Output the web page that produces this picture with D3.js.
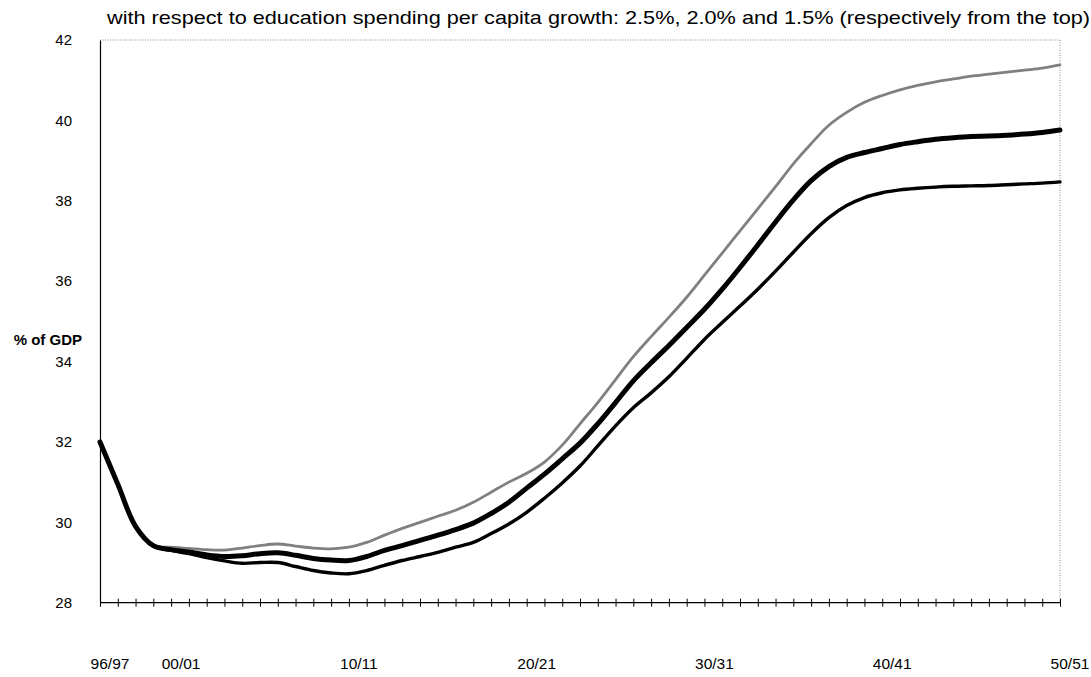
<!DOCTYPE html>
<html>
<head>
<meta charset="utf-8">
<script src="https://cdn.jsdelivr.net/npm/d3@7"></script>
<style>
  body { margin: 0; background: #fff; }
  text { font-family: "Liberation Sans", Arial, sans-serif; fill: #000; }
</style>
</head>
<body>
<svg id="chart" width="1091" height="677"></svg>
<script>
// fiscal years, by starting year (96/97 ... 50/51)
var years = d3.range(1996, 2051);

// % of GDP, education spending per capita growth 2.5%
var growth25 = [32.0, 30.95, 29.9, 29.42, 29.38, 29.35, 29.32, 29.31, 29.36, 29.42,
  29.46, 29.41, 29.36, 29.34, 29.38, 29.5, 29.68, 29.85, 30.0, 30.15,
  30.3, 30.5, 30.75, 31.0, 31.22, 31.5, 31.92, 32.45, 32.98, 33.55,
  34.12, 34.62, 35.1, 35.6, 36.15, 36.7, 37.25, 37.8, 38.35, 38.92,
  39.42, 39.88, 40.2, 40.45, 40.62, 40.76, 40.87, 40.96, 41.03, 41.1,
  41.15, 41.2, 41.25, 41.3, 41.38];

// 2.0%
var growth20 = [32.0, 30.95, 29.9, 29.42, 29.32, 29.26, 29.19, 29.15, 29.17, 29.22,
  29.24, 29.18, 29.1, 29.06, 29.05, 29.15, 29.3, 29.42, 29.55, 29.68,
  29.82, 29.98, 30.22, 30.5, 30.85, 31.2, 31.58, 31.97, 32.45, 32.98,
  33.52, 33.97, 34.4, 34.85, 35.3, 35.8, 36.34, 36.9, 37.47, 38.02,
  38.5, 38.85, 39.08, 39.2, 39.3, 39.4, 39.47, 39.53, 39.57, 39.6,
  39.61, 39.63, 39.66, 39.7, 39.76];

// 1.5%
var growth15 = [32.0, 30.95, 29.9, 29.42, 29.3, 29.22, 29.12, 29.04, 28.98, 29.0,
  29.0, 28.9, 28.8, 28.74, 28.72, 28.8, 28.93, 29.05, 29.15, 29.25,
  29.38, 29.5, 29.72, 29.96, 30.25, 30.6, 30.98, 31.4, 31.9, 32.4,
  32.85, 33.22, 33.62, 34.08, 34.55, 34.97, 35.38, 35.8, 36.25, 36.72,
  37.18, 37.58, 37.88, 38.08, 38.2, 38.27, 38.31, 38.34, 38.36, 38.37,
  38.38, 38.4, 38.42, 38.44, 38.47];

var xTickYears = [1996, 2000, 2010, 2020, 2030, 2040, 2050];
var yTicks = [28, 30, 32, 34, 36, 38, 40, 42];

var title = "with respect to education spending per capita growth: 2.5%, 2.0% and 1.5% (respectively from the top)";

var plotLeft = 100, plotRight = 1060, plotTop = 40, plotBottom = 602.7;

var svg = d3.select("#chart");

var x = d3.scaleLinear().domain([1996, 2050]).range([plotLeft, plotRight]);
var y = d3.scaleLinear().domain([28, 42]).range([plotBottom, plotTop]);

function yearLabel(yr) {
  var a = yr % 100, b = (yr + 1) % 100;
  return d3.format("02d")(a) + "/" + d3.format("02d")(b);
}

// title
svg.append("text")
  .attr("x", 107)
  .attr("y", 24)
  .attr("font-size", 18.5)
  .attr("textLength", 983)
  .attr("lengthAdjust", "spacingAndGlyphs")
  .text(title);

// top and right frame, dotted grey
svg.append("path")
  .attr("d", "M" + plotLeft + "," + plotTop + "H" + plotRight + "V" + plotBottom)
  .attr("fill", "none")
  .attr("stroke", "#8a8a8a")
  .attr("stroke-width", 1)
  .attr("stroke-dasharray", "1,1.5");

// y axis
var yAxis = svg.append("g")
  .attr("transform", "translate(" + plotLeft + ",0)")
  .call(d3.axisLeft(y).tickValues(yTicks).tickSize(0).tickPadding(28).tickFormat(d3.format("d")));
yAxis.select(".domain").attr("stroke", "#000").attr("stroke-width", 1.2);
yAxis.selectAll("text")
  .attr("font-size", 15)
  .attr("font-family", "Liberation Sans, Arial, sans-serif");

svg.append("text")
  .attr("x", 82)
  .attr("y", 345)
  .attr("text-anchor", "end")
  .attr("font-size", 15)
  .attr("font-weight", "bold")
  .text("% of GDP");

// x axis, crossing tick marks every year
var xAxis = svg.append("g")
  .attr("transform", "translate(0," + plotBottom + ")")
  .call(d3.axisBottom(x).tickValues(years).tickSize(4).tickFormat(""));
xAxis.select(".domain").attr("d", "M" + plotLeft + ",0H" + plotRight).attr("stroke", "#000").attr("stroke-width", 1.2);
xAxis.selectAll(".tick line").attr("y1", -4).attr("y2", 4).attr("stroke", "#000");

svg.append("g")
  .selectAll("text")
  .data(xTickYears)
  .join("text")
  .attr("x", function(d) { return x(d) + 10; })
  .attr("y", 669)
  .attr("text-anchor", "middle")
  .attr("font-size", 15.5)
  .text(yearLabel);

// lines
var series = [
  { values: growth25, color: "#808080", width: 2.8 },
  { values: growth15, color: "#000", width: 3.4 },
  { values: growth20, color: "#000", width: 5 }
];

var line = d3.line()
  .x(function(d, i) { return x(years[i]); })
  .y(function(d) { return y(d); })
  .curve(d3.curveCatmullRom.alpha(0.5));

svg.append("g")
  .selectAll("path")
  .data(series)
  .join("path")
  .attr("d", function(s) { return line(s.values); })
  .attr("fill", "none")
  .attr("stroke", function(s) { return s.color; })
  .attr("stroke-width", function(s) { return s.width; })
  .attr("stroke-linejoin", "round")
  .attr("stroke-linecap", "round");
</script>
</body>
</html>
